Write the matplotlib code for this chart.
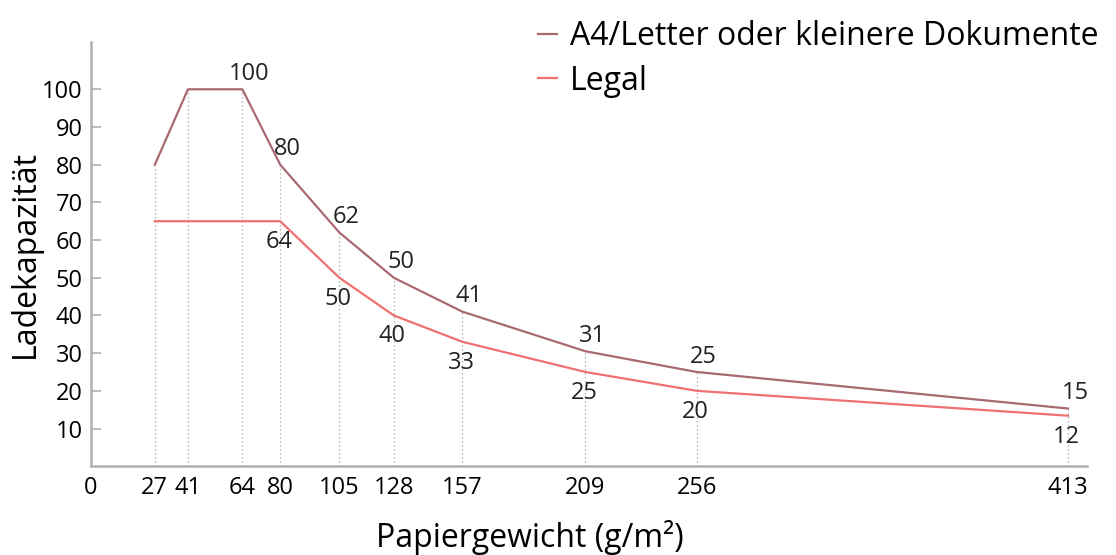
import matplotlib
matplotlib.use("Agg")
from matplotlib import pyplot as plt

plt.rcParams['font.family'] = ['Open Sans', 'DejaVu Sans']

# Papiergewicht (g/m2)
gewicht = [27, 41, 64, 80, 105, 128, 157, 209, 256, 413]

# Ladekapazität, wie gezeichnet
a4 = [80, 100, 100, 80, 62, 50, 41, 30.5, 25, 15.3]
legal = [65, 65, 65, 65, 50, 40, 33, 25, 20, 13.4]

# Beschriftungen (None = keine)
a4_text = [None, None, "100", "80", "62", "50", "41", "31", "25", "15"]
legal_text = [None, None, None, "64", "50", "40", "33", "25", "20", "12"]

farbe_a4 = '#a86a70'
farbe_legal = '#f07070'
grau = '#b0b0b0'

fig = plt.figure(figsize=(11.16, 5.55), dpi=100)
ax = fig.add_axes([0.0815, 0.160, 0.8925, 0.764])

# gepunktete Hilfslinien
for x, y1, y2 in zip(gewicht, a4, legal):
    ax.vlines(x, 0, max(y1, y2), colors=grau, linestyles=(0, (1.2, 2)), linewidth=0.9, zorder=1)

ax.plot(gewicht, a4, color=farbe_a4, linewidth=1.6, label='A4/Letter oder kleinere Dokumente', zorder=3)
ax.plot(gewicht, legal, color=farbe_legal, linewidth=1.6, label='Legal', zorder=3)

for x, y, t in zip(gewicht, a4, a4_text):
    if t:
        ax.annotate(t, (x, y), xytext=(5, 11), textcoords='offset points',
                    ha='center', va='center', fontsize=17, color='#222222')
for x, y, t in zip(gewicht, legal, legal_text):
    if t:
        ax.annotate(t, (x, y), xytext=(-1, -15), textcoords='offset points',
                    ha='center', va='center', fontsize=17, color='#222222')

ax.set_xlim(0, 421)
ax.set_ylim(0, 112.5)
ax.set_yticks(range(10, 101, 10))
ax.set_xticks([0] + gewicht)
ax.set_xticklabels(['0'] + [str(g) for g in gewicht])
ax.tick_params(axis='y', direction='in', length=7, width=1.2, color=grau, labelsize=17, pad=6)
ax.tick_params(axis='x', length=0, labelsize=17, pad=7)

for s in ['top', 'right']:
    ax.spines[s].set_visible(False)
for s in ['left', 'bottom']:
    ax.spines[s].set_color(grau)
    ax.spines[s].set_linewidth(1.8)

ax.set_ylabel('Ladekapazität', fontsize=23, labelpad=0)
fig.text(0.475, 0.032, 'Papiergewicht (g/m²)', fontsize=23, ha='center', va='center')

fig.legend(loc='upper right', bbox_to_anchor=(1.01, 1.015), frameon=False, fontsize=23,
           handlelength=0.6, handletextpad=0.4, labelspacing=0.35)

fig.savefig('out.png', dpi=100)
